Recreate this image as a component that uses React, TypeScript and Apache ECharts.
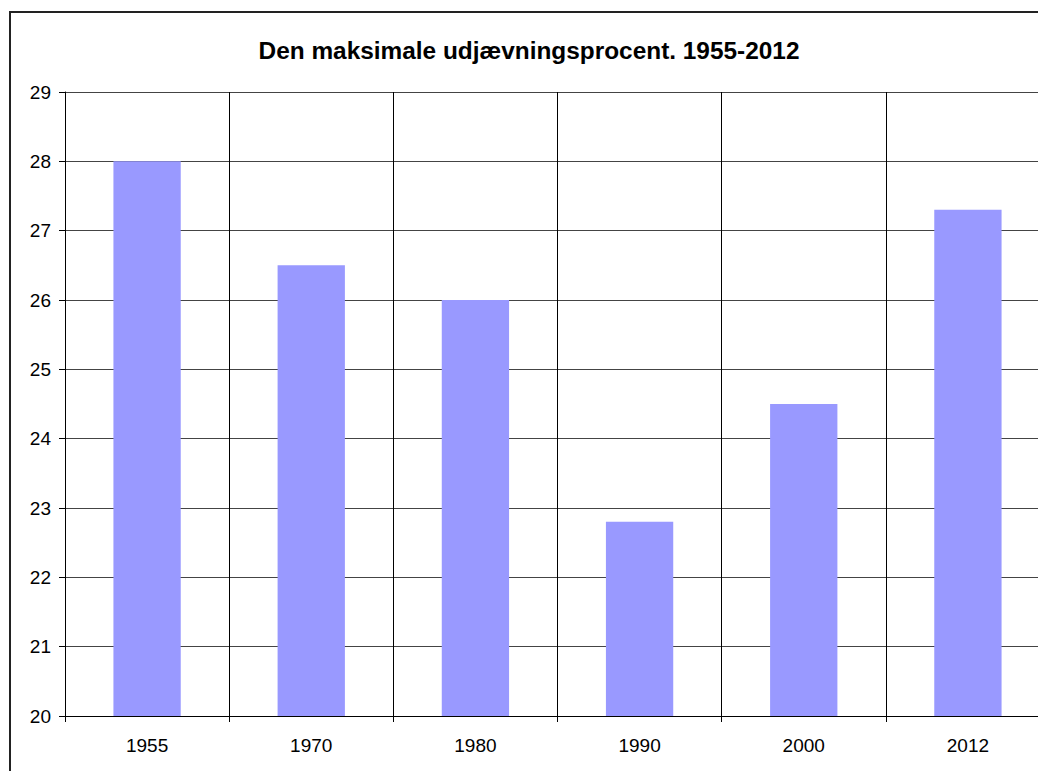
import React, { useEffect, useRef } from "react";
import * as echarts from "echarts";

const categories = ["1955", "1970", "1980", "1990", "2000", "2012"];
const values = [28, 26.5, 26, 22.8, 24.5, 27.3];
const titleText = "Den maksimale udjævningsprocent. 1955-2012";

export default function App() {
  const ref = useRef<HTMLDivElement>(null);
  useEffect(() => {
    if (!ref.current) return;
    const chart = echarts.init(ref.current, null, { renderer: "svg" });
    const font = "'Liberation Sans', Arial, sans-serif";
    chart.setOption({
      animation: false,
      backgroundColor: "#ffffff",
      textStyle: { fontFamily: font },
      graphic: [
        {
          type: "rect",
          shape: { x: 10, y: 12, width: 1200, height: 900 },
          style: { fill: "none", stroke: "#222", lineWidth: 2 },
          silent: true,
        },
        {
          type: "text",
          x: 529,
          y: 50,
          style: {
            text: titleText,
            fontFamily: font,
            fontSize: 24.4,
            fontWeight: "bold",
            fill: "#000",
            align: "center",
            verticalAlign: "middle",
          },
        },
      ],
      grid: { left: 65, top: 92, width: 985, height: 624, containLabel: false },
      xAxis: {
        type: "category",
        data: categories,
        boundaryGap: true,
        axisLine: { show: true, lineStyle: { color: "#000", width: 1 } },
        axisTick: { show: true, alignWithLabel: false, length: 6, lineStyle: { color: "#000" } },
        axisLabel: { color: "#000", fontSize: 19, fontFamily: font, margin: 20, interval: 0 },
        splitLine: { show: true, interval: 0, lineStyle: { color: "#000", width: 1 } },
      },
      yAxis: {
        type: "value",
        min: 20,
        max: 29,
        interval: 1,
        axisLine: { show: true, lineStyle: { color: "#000", width: 1 } },
        axisTick: { show: true, length: 6, lineStyle: { color: "#000" } },
        axisLabel: { color: "#000", fontSize: 19, fontFamily: font, margin: 14 },
        splitLine: { show: true, lineStyle: { color: "#444", width: 1 } },
      },
      series: [
        {
          type: "bar",
          data: values,
          barWidth: "41%",
          itemStyle: { color: "#9999FF" },
        },
      ],
    });
    return () => chart.dispose();
  }, []);
  return (
    <div
      style={{
        position: "absolute",
        left: 0,
        top: 0,
        width: 1038,
        height: 771,
        overflow: "hidden",
      }}
    >
      <div ref={ref} style={{ width: 1100, height: 771 }} />
    </div>
  );
}
